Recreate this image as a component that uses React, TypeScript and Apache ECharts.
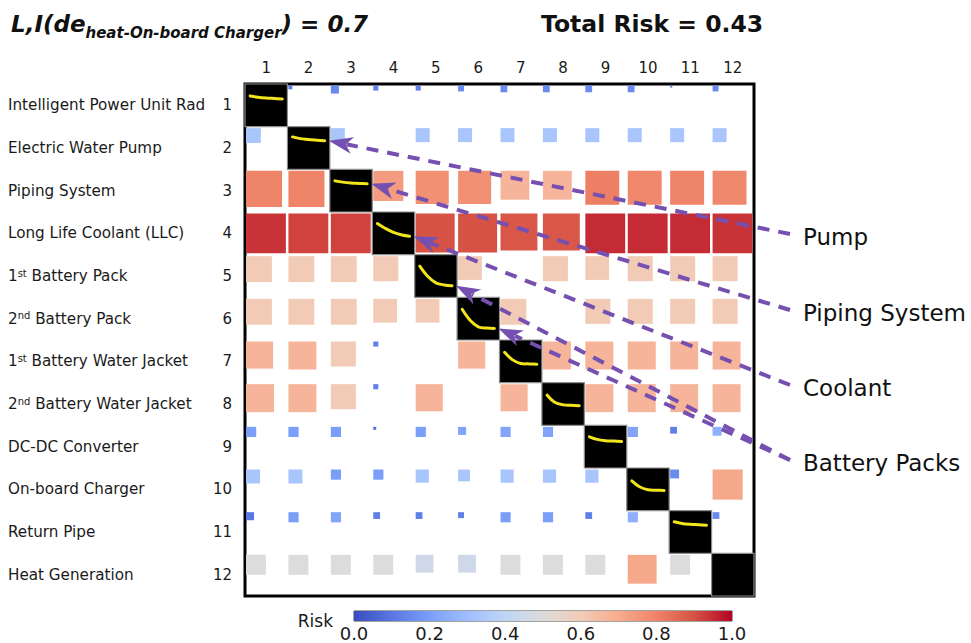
import React, { useEffect, useRef } from "react";
import * as echarts from "echarts";

const FONT = "DejaVu Sans";

const COLUMN_LABELS = ["1", "2", "3", "4", "5", "6", "7", "8", "9", "10", "11", "12"];
const ROW_NUMBERS = ["1", "2", "3", "4", "5", "6", "7", "8", "9", "10", "11", "12"];
const COMPONENT_NAMES = [
  "Intelligent Power Unit Rad",
  "Electric Water Pump",
  "Piping System",
  "Long Life Coolant (LLC)",
  "1st Battery Pack",
  "2nd Battery Pack",
  "1st Battery Water Jacket",
  "2nd Battery Water Jacket",
  "DC-DC Converter",
  "On-board Charger",
  "Return Pipe",
  "Heat Generation",
];

// Risk value of each off-diagonal interaction (row = from, column = to); null = none
const RISK: (number | null)[][] = [
  [null, 0.1, 0.15, 0.12, 0.12, 0.15, 0.15, 0.15, 0.15, 0.15, 0.12, 0.15],
  [0.33, null, 0.33, null, 0.33, 0.33, 0.33, 0.33, 0.33, 0.33, 0.33, 0.33],
  [0.8, 0.8, null, 0.74, 0.77, 0.77, 0.67, 0.67, 0.81, 0.79, 0.8, 0.79],
  [0.94, 0.92, 0.92, null, 0.9, 0.9, 0.89, 0.89, 0.95, 0.95, 0.95, 0.94],
  [0.6, 0.6, 0.6, 0.6, null, 0.6, null, 0.6, 0.6, 0.6, 0.6, 0.6],
  [0.6, 0.6, 0.6, 0.6, 0.6, null, 0.6, null, 0.6, 0.6, 0.6, 0.6],
  [0.67, 0.67, 0.6, 0.12, null, 0.67, null, 0.67, 0.67, 0.67, 0.67, 0.67],
  [0.67, 0.67, 0.6, 0.12, 0.67, null, 0.67, null, 0.67, 0.67, 0.67, 0.67],
  [0.2, 0.2, 0.2, 0.08, 0.2, 0.22, 0.22, 0.22, null, 0.22, 0.12, 0.25],
  [0.33, 0.33, 0.2, 0.2, 0.33, 0.33, 0.33, 0.33, 0.33, null, 0.15, 0.71],
  [0.1, 0.2, 0.22, 0.12, 0.12, 0.12, 0.2, 0.2, 0.12, 0.25, null, 0.15],
  [0.5, 0.5, 0.5, 0.5, 0.45, 0.45, 0.5, 0.5, 0.5, 0.71, 0.5, null],
];

// Relative square size (fraction of a cell) of each interaction
const SIZE: number[][] = [
  [0, 0.09, 0.19, 0.12, 0.12, 0.14, 0.16, 0.16, 0.16, 0.16, 0.05, 0.14],
  [0.35, 0, 0.33, 0, 0.33, 0.33, 0.33, 0.33, 0.33, 0.33, 0.33, 0.33],
  [0.85, 0.85, 0, 0.71, 0.78, 0.78, 0.68, 0.68, 0.8, 0.8, 0.8, 0.8],
  [0.94, 0.94, 0.94, 0, 0.92, 0.92, 0.87, 0.87, 0.94, 0.94, 0.94, 0.94],
  [0.61, 0.61, 0.61, 0.59, 0, 0.56, 0, 0.59, 0.56, 0.59, 0.59, 0.59],
  [0.61, 0.61, 0.61, 0.56, 0.56, 0, 0.61, 0, 0.59, 0.59, 0.59, 0.59],
  [0.64, 0.66, 0.59, 0.12, 0, 0.64, 0, 0.66, 0.66, 0.66, 0.66, 0.66],
  [0.66, 0.66, 0.59, 0.12, 0.64, 0, 0.64, 0, 0.66, 0.66, 0.66, 0.66],
  [0.24, 0.24, 0.24, 0.07, 0.24, 0.19, 0.24, 0.24, 0, 0.24, 0.16, 0.21],
  [0.33, 0.33, 0.24, 0.24, 0.31, 0.28, 0.31, 0.31, 0.31, 0, 0.21, 0.71],
  [0.19, 0.24, 0.24, 0.16, 0.16, 0.14, 0.24, 0.24, 0.16, 0.24, 0, 0.16],
  [0.47, 0.47, 0.47, 0.47, 0.42, 0.42, 0.47, 0.47, 0.47, 0.68, 0.47, 0],
];

// Yellow reliability curves inside the diagonal cells (fractions of the cell)
const CURVE_X = [0.12, 0.3, 0.5, 0.7, 0.88];
const CURVE_Y: (number[] | null)[] = [
  [0.28, 0.31, 0.33, 0.34, 0.35],
  [0.24, 0.28, 0.3, 0.32, 0.33],
  [0.27, 0.3, 0.32, 0.33, 0.34],
  [0.27, 0.38, 0.48, 0.54, 0.57],
  [0.27, 0.5, 0.66, 0.71, 0.73],
  [0.28, 0.53, 0.69, 0.72, 0.73],
  [0.29, 0.46, 0.55, 0.56, 0.57],
  [0.29, 0.46, 0.52, 0.53, 0.54],
  [0.27, 0.33, 0.36, 0.37, 0.38],
  [0.3, 0.44, 0.51, 0.52, 0.53],
  [0.26, 0.3, 0.32, 0.33, 0.34],
  null,
];

const COOLWARM = [
  "#3b4cc0", "#5977e3", "#7b9ff9", "#9ebeff", "#c0d4f5", "#dddcdc",
  "#f2cbb7", "#f7ac8e", "#ee8468", "#d65244", "#b40426",
];

const ANNOTATION_LABELS = ["Pump", "Piping System", "Coolant", "Battery Packs"];
const ANNOTATION_TARGETS = [[1], [2], [3], [4, 5]];

const LAYOUT = {
  annotationTextX: 803,
  annotationTextY: [237, 313, 388, 463],
  arrowStartX: 790,
  arrowStartDy: -3,
};

const PURPLE = "#7550b0";

export default function App() {
  const ref = useRef<HTMLDivElement>(null);

  useEffect(() => {
    if (!ref.current) return;
    const chart = echarts.init(ref.current, undefined, { renderer: "svg" });

    const cellData: number[][] = [];
    RISK.forEach((row, r) =>
      row.forEach((v, c) => {
        if (v !== null && SIZE[r][c] > 0) cellData.push([c, r, v, SIZE[r][c]]);
      })
    );
    const diagData = COLUMN_LABELS.map((_, i) => [i, i]);

    const nameFormatter = (v: string) => {
      const m = v.match(/^(\d)(st|nd)(.*)$/);
      if (m) return `{n|${m[1]}}{sup|${m[2]}}{n|${m[3]}}`;
      return `{n|${v}}`;
    };

    const option: any = {
      animation: false,
      backgroundColor: "#ffffff",
      title: [
        {
          left: 6,
          top: 3,
          text: "{m|L,I(de}{s|heat-On-board Charger}{m|) = 0.7}",
          textStyle: {
            rich: {
              m: { fontFamily: FONT, fontSize: 23, fontWeight: "bold", fontStyle: "italic", color: "#111", lineHeight: 32 },
              s: { fontFamily: FONT, fontSize: 15, fontWeight: "bold", fontStyle: "italic", color: "#111", lineHeight: 15, padding: [17, 0, 0, 0] },
            },
          },
        },
        {
          left: 536,
          top: 3,
          text: "Total Risk = 0.43",
          textStyle: { fontFamily: FONT, fontSize: 23.5, fontWeight: "bold", color: "#111", lineHeight: 32 },
        },
      ],
      grid: [
        { left: 245, top: 84, width: 509, height: 512, show: true, borderColor: "#000", borderWidth: 3, backgroundColor: "transparent" },
        { left: 354, top: 611, width: 378, height: 10, show: true, borderColor: "#444", borderWidth: 1, backgroundColor: "transparent" },
      ],
      xAxis: [
        {
          type: "category",
          gridIndex: 0,
          position: "top",
          data: COLUMN_LABELS,
          axisLine: { show: false },
          axisTick: { show: false },
          splitLine: { show: false },
          axisLabel: { fontFamily: FONT, fontSize: 15, color: "#1a1a1a", margin: 9, interval: 0 },
        },
        {
          type: "value",
          gridIndex: 1,
          min: 0,
          max: 1,
          interval: 0.2,
          axisLine: { show: false },
          axisTick: { show: false },
          splitLine: { show: false },
          axisLabel: {
            formatter: (v: number) => v.toFixed(1),
            fontFamily: FONT,
            fontSize: 18,
            color: "#1a1a1a",
            margin: 3,
            showMinLabel: true,
            showMaxLabel: true,
          },
          name: "Risk",
          nameLocation: "start",
          nameGap: 21,
          nameTextStyle: { fontFamily: FONT, fontSize: 17, color: "#1a1a1a", align: "right", verticalAlign: "middle", padding: [0, 0, 10, 0] },
        },
      ],
      yAxis: [
        {
          type: "category",
          gridIndex: 0,
          position: "left",
          inverse: true,
          data: ROW_NUMBERS,
          axisLine: { show: false },
          axisTick: { show: false },
          splitLine: { show: false },
          axisLabel: { fontFamily: FONT, fontSize: 15, color: "#1a1a1a", margin: 13, interval: 0 },
        },
        {
          type: "category",
          gridIndex: 0,
          position: "left",
          offset: 0,
          inverse: true,
          data: COMPONENT_NAMES,
          axisLine: { show: false },
          axisTick: { show: false },
          splitLine: { show: false },
          axisLabel: {
            align: "left",
            margin: 237,
            interval: 0,
            formatter: nameFormatter,
            rich: {
              n: { fontFamily: FONT, fontSize: 15.2, color: "#1a1a1a", lineHeight: 18 },
              sup: { fontFamily: FONT, fontSize: 10, color: "#1a1a1a", lineHeight: 12, padding: [0, 0, 6, 0] },
            },
          },
        },
        { type: "value", gridIndex: 1, min: 0, max: 1, show: false },
      ],
      visualMap: {
        type: "continuous",
        show: false,
        min: 0,
        max: 1,
        dimension: 2,
        seriesIndex: 0,
        inRange: { color: COOLWARM },
      },
      series: [
        {
          name: "interactions",
          type: "custom",
          xAxisIndex: 0,
          yAxisIndex: 0,
          data: cellData,
          renderItem: (params: any, api: any) => {
            const c = api.value(0);
            const r = api.value(1);
            const center = api.coord([c, r]);
            const sz = api.size([1, 1]);
            const left = center[0] - sz[0] / 2 + 1;
            const top = center[1] - sz[1] / 2 + 1.5;
            const s = api.value(3) * sz[0];
            return {
              type: "rect",
              shape: { x: left, y: top, width: s, height: s },
              style: { fill: api.visual("color") },
            };
          },
        },
        {
          name: "components",
          type: "custom",
          xAxisIndex: 0,
          yAxisIndex: 0,
          data: diagData,
          z: 3,
          renderItem: (params: any, api: any) => {
            const i = api.value(0);
            const center = api.coord([i, i]);
            const sz = api.size([1, 1]);
            const x0 = center[0] - sz[0] / 2;
            const y0 = center[1] - sz[1] / 2;
            const children: any[] = [
              {
                type: "rect",
                shape: { x: x0, y: y0, width: sz[0], height: sz[1] },
                style: { fill: "#000", stroke: "#8c8c8c", lineWidth: 1.2 },
              },
            ];
            const ys = CURVE_Y[i];
            if (ys) {
              children.push({
                type: "polyline",
                shape: {
                  points: ys.map((fy, k) => [x0 + CURVE_X[k] * sz[0], y0 + fy * sz[1]]),
                  smooth: 0.35,
                },
                style: { stroke: "#f2e41c", lineWidth: 3, fill: null, lineCap: "round" },
              });
            }
            return { type: "group", children };
          },
        },
        {
          name: "colorbar",
          type: "custom",
          xAxisIndex: 1,
          yAxisIndex: 2,
          data: [[0, 0]],
          silent: true,
          renderItem: (params: any, api: any) => {
            const p0 = api.coord([0, 0]);
            const p1 = api.coord([1, 1]);
            return {
              type: "rect",
              shape: { x: p0[0], y: p1[1], width: p1[0] - p0[0], height: p0[1] - p1[1] },
              style: {
                fill: new echarts.graphic.LinearGradient(
                  0, 0, 1, 0,
                  COOLWARM.map((col, k) => ({ offset: k / (COOLWARM.length - 1), color: col }))
                ),
              },
            };
          },
        },
      ],
    };

    chart.setOption(option);

    // Annotation arrows, anchored on the diagonal cells through the axes
    const graphics: any[] = [];
    const finder = { xAxisIndex: 0, yAxisIndex: 0 };
    ANNOTATION_LABELS.forEach((label, a) => {
      const ty = LAYOUT.annotationTextY[a];
      graphics.push({
        type: "text",
        x: LAYOUT.annotationTextX,
        y: ty,
        z: 100,
        style: { text: label, fontFamily: FONT, fontSize: 23, fill: "#111", verticalAlign: "middle", align: "left" },
      });
      const sx = LAYOUT.arrowStartX;
      const sy = ty + LAYOUT.arrowStartDy;
      ANNOTATION_TARGETS[a].forEach((i) => {
        const c = chart.convertToPixel(finder, [i, i]) as number[];
        const n = chart.convertToPixel(finder, [i + 1, i + 1]) as number[];
        const w = n[0] - c[0];
        const h = n[1] - c[1];
        const ys = CURVE_Y[i] as number[];
        const tx = c[0] + w / 2 - 1;
        const tyy = c[1] - h / 2 + ys[ys.length - 1] * h;
        const dx = sx - tx;
        const dy = sy - tyy;
        const len = Math.sqrt(dx * dx + dy * dy);
        const ux = dx / len;
        const uy = dy / len;
        const nx = -uy;
        const ny = ux;
        const L = 24;
        const W = 17;
        const bx = tx + ux * L * 0.75;
        const by = tyy + uy * L * 0.75;
        graphics.push({
          type: "line",
          z: 100,
          shape: { x1: sx, y1: sy, x2: bx, y2: by },
          style: { stroke: PURPLE, lineWidth: 4, lineDash: [12, 9] },
        });
        graphics.push({
          type: "polygon",
          z: 101,
          shape: {
            points: [
              [tx, tyy],
              [tx + ux * L + nx * W / 2, tyy + uy * L + ny * W / 2],
              [tx + ux * L * 0.72, tyy + uy * L * 0.72],
              [tx + ux * L - nx * W / 2, tyy + uy * L - ny * W / 2],
            ],
          },
          style: { fill: PURPLE },
        });
      });
    });
    chart.setOption({ graphic: graphics });

    return () => chart.dispose();
  }, []);

  return <div ref={ref} style={{ width: 971, height: 643, position: "absolute", left: 0, top: 0 }} />;
}
